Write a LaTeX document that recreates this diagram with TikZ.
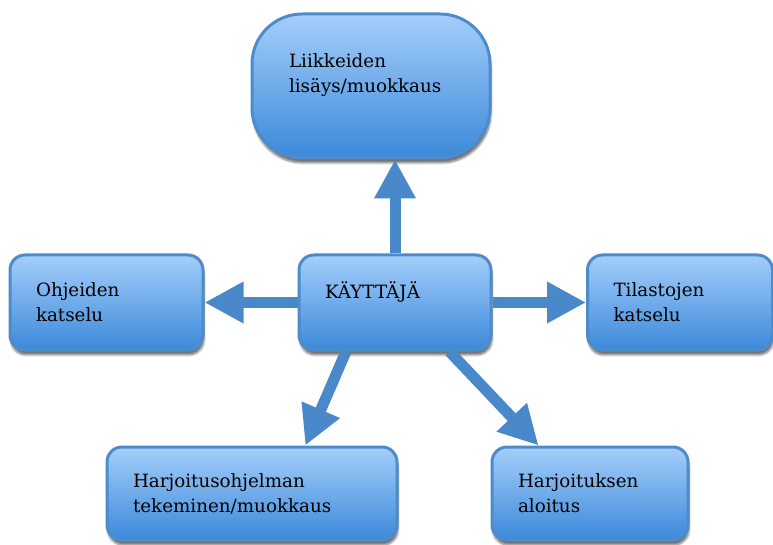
\documentclass[tikz,border=0pt]{standalone}
\usepackage{fontspec}
\setmainfont{DejaVu Serif}
\usepackage{tikz}
\usetikzlibrary{arrows.meta}
\usetikzlibrary{shadows.blur}
\usepackage{xcolor}
\definecolor{boxtop}{HTML}{A4CEFA}
\definecolor{boxmid}{HTML}{74AEEE}
\definecolor{boxbot}{HTML}{3C89DA}
\definecolor{boxline}{HTML}{4D8CCB}
\definecolor{arrowblue}{HTML}{4A89C9}

\begin{document}
\begin{tikzpicture}[x=1pt,y=1pt,
  box/.style={draw=boxline, line width=3pt, rounded corners=15pt,
    top color=boxtop, middle color=boxmid, bottom color=boxbot,
    inner xsep=26pt, align=left, minimum height=95pt,
    font=\fontsize{18.3}{25}\selectfont,
    blur shadow={shadow xshift=1pt, shadow yshift=-5pt, shadow blur steps=6, shadow opacity=55}},
  arr/.style={draw=arrowblue, line width=11pt, -{Triangle[width=39pt,length=39pt]}}]

\useasboundingbox (0,0) rectangle (773,544);

% Draw the boxes
\node[box, rounded corners=50pt, inner xsep=37pt, text width=164pt, minimum height=144pt] (move) at (371,458) {Liikkeiden\\lisäys/muokkaus\\\mbox{}};
\node[box, text width=140pt] (user)  at (395,241.5) {KÄYTTÄJÄ\\\mbox{}};
\node[box, text width=141pt] (help)  at (106.5,241.5) {Ohjeiden\\katselu};
\node[box, text width=133pt] (stats) at (680,241.5) {Tilastojen\\katselu};
\node[box, text width=238pt, minimum height=93pt] (plan)  at (252,50.5) {Harjoitusohjelman\\tekeminen/muokkaus};
\node[box, text width=144pt, minimum height=93pt] (start) at (590,50.5) {Harjoituksen\\aloitus};

% Draw the arrows from the user
\draw[arr] (user.north) -- (user.north |- move.south);
\draw[arr] (user.west) -- (help.east);
\draw[arr] (user.east) -- (stats.west);
\draw[arr] (user.225) -- (plan.42);
\draw[arr] (user.318) -- (start.137);

\end{tikzpicture}
\end{document}
